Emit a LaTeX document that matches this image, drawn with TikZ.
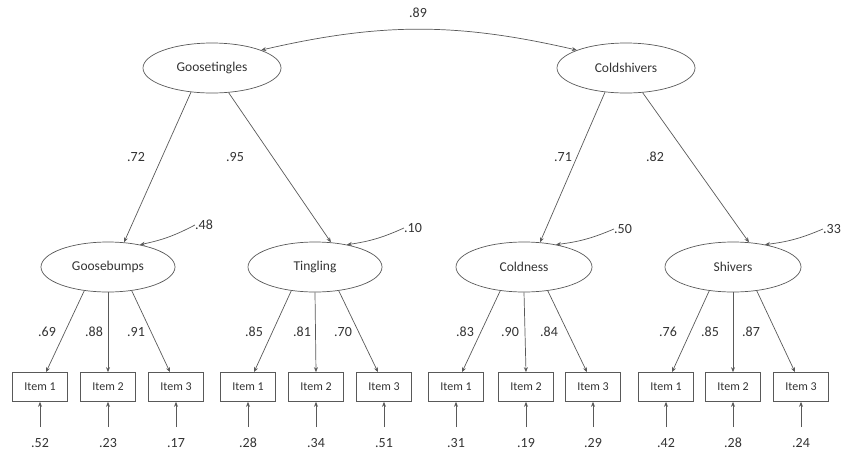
\documentclass[tikz,border=0pt]{standalone}
\usepackage{fontspec}
\setmainfont{Carlito}
\usetikzlibrary{shapes.geometric,arrows.meta}
\begin{document}
\begin{tikzpicture}[x=1pt,y=-1pt,
  lat/.style={ellipse,draw=black!65,line width=0.7pt,minimum width=138pt,minimum height=50pt,inner sep=0pt,text=black!80,font=\fontsize{13.5}{16}\selectfont},
  itm/.style={rectangle,draw=black!65,line width=0.7pt,minimum width=55pt,minimum height=29pt,inner sep=0pt,text=black!80,font=\fontsize{12}{14}\selectfont},
  lbl/.style={text=black!80,font=\fontsize{14}{16}\selectfont,inner sep=0pt},
  con/.style={draw=black!65,line width=0.7pt,-{Stealth[length=5pt,width=4pt]}},
  cov/.style={draw=black!65,line width=0.7pt,{Stealth[length=5pt,width=4pt]}-{Stealth[length=5pt,width=4pt]}}]
\useasboundingbox (0,0) rectangle (841,461);
% top latents
\node[lat] (gt) at (212,68) {Goosetingles};
\node[lat] (cs) at (626,68) {Coldshivers};
% second level
\node[lat,minimum width=134pt] (gb) at (108,267) {Goosebumps};
\node[lat,minimum width=134pt] (tg) at (315,267) {Tingling};
\node[lat,minimum width=136pt] (cd) at (524,267) {Coldness};
\node[lat,minimum width=136pt] (sh) at (733,267) {Shivers};
% covariance
\draw[cov] (gt.20) to[bend left=13] (cs.160);
\node[lbl] (r89) at (418,13) {.89};
% second order loadings
\draw[con] (gt.229) -- (gb.57);
\draw[con] (gt.304) -- (tg.57);
\draw[con] (cs.229) -- (cd.57);
\draw[con] (cs.304) -- (sh.57);
\node[lbl] (l72) at (136,157) {.72};
\node[lbl] (l95) at (235,157) {.95};
\node[lbl] (l71) at (563,157) {.71};
\node[lbl] (l82) at (655,157) {.82};
% disturbances
\node[lbl] (d48) at (204,225) {.48};
\node[lbl] (d10) at (413,228) {.10};
\node[lbl] (d50) at (623,229) {.50};
\node[lbl] (d33) at (832,229) {.33};
\draw[con] (d48.west) to[bend left=8] (gb.35);
\draw[con] (d10.west) to[bend left=8] (tg.35);
\draw[con] (d50.west) to[bend left=8] (cd.35);
\draw[con] (d33.west) to[bend left=8] (sh.35);
% items
\foreach \g/\n/\xa/\xb/\xc in {gb/a/40/108/176, tg/b/248/316/384, cd/c/456/526/593, sh/d/666/733/801}{
  \node[itm] (\n1) at (\xa,387) {Item 1};
  \node[itm] (\n2) at (\xb,387) {Item 2};
  \node[itm] (\n3) at (\xc,387) {Item 3};
  \draw[con] (\g.225) -- (\n1.68);
  \draw[con] (\g.south) -- (\n2.north);
  \draw[con] (\g.315) -- (\n3.112);
}
% loading labels
\foreach \x/\t [count=\i] in {47/.69, 94/.88, 136/.91, 254/.85, 302/.81, 343/.70, 465/.83, 510/.90, 549/.84, 668/.76, 710/.85, 751/.87}{
  \node[lbl] (ll\i) at (\x,332) {\t};
}
% errors
\foreach \n/\x/\t [count=\i] in {a1/40/.52, a2/108/.23, a3/176/.17, b1/248/.28, b2/316/.34, b3/384/.51, c1/456/.31, c2/526/.19, c3/593/.29, d1/666/.42, d2/733/.28, d3/801/.24}{
  \node[lbl] (e\i) at (\x,443) {\t};
  \coordinate (s\i) at (\x,427);
  \draw[con] (s\i) -- (\n.south);
}
\end{tikzpicture}
\end{document}
